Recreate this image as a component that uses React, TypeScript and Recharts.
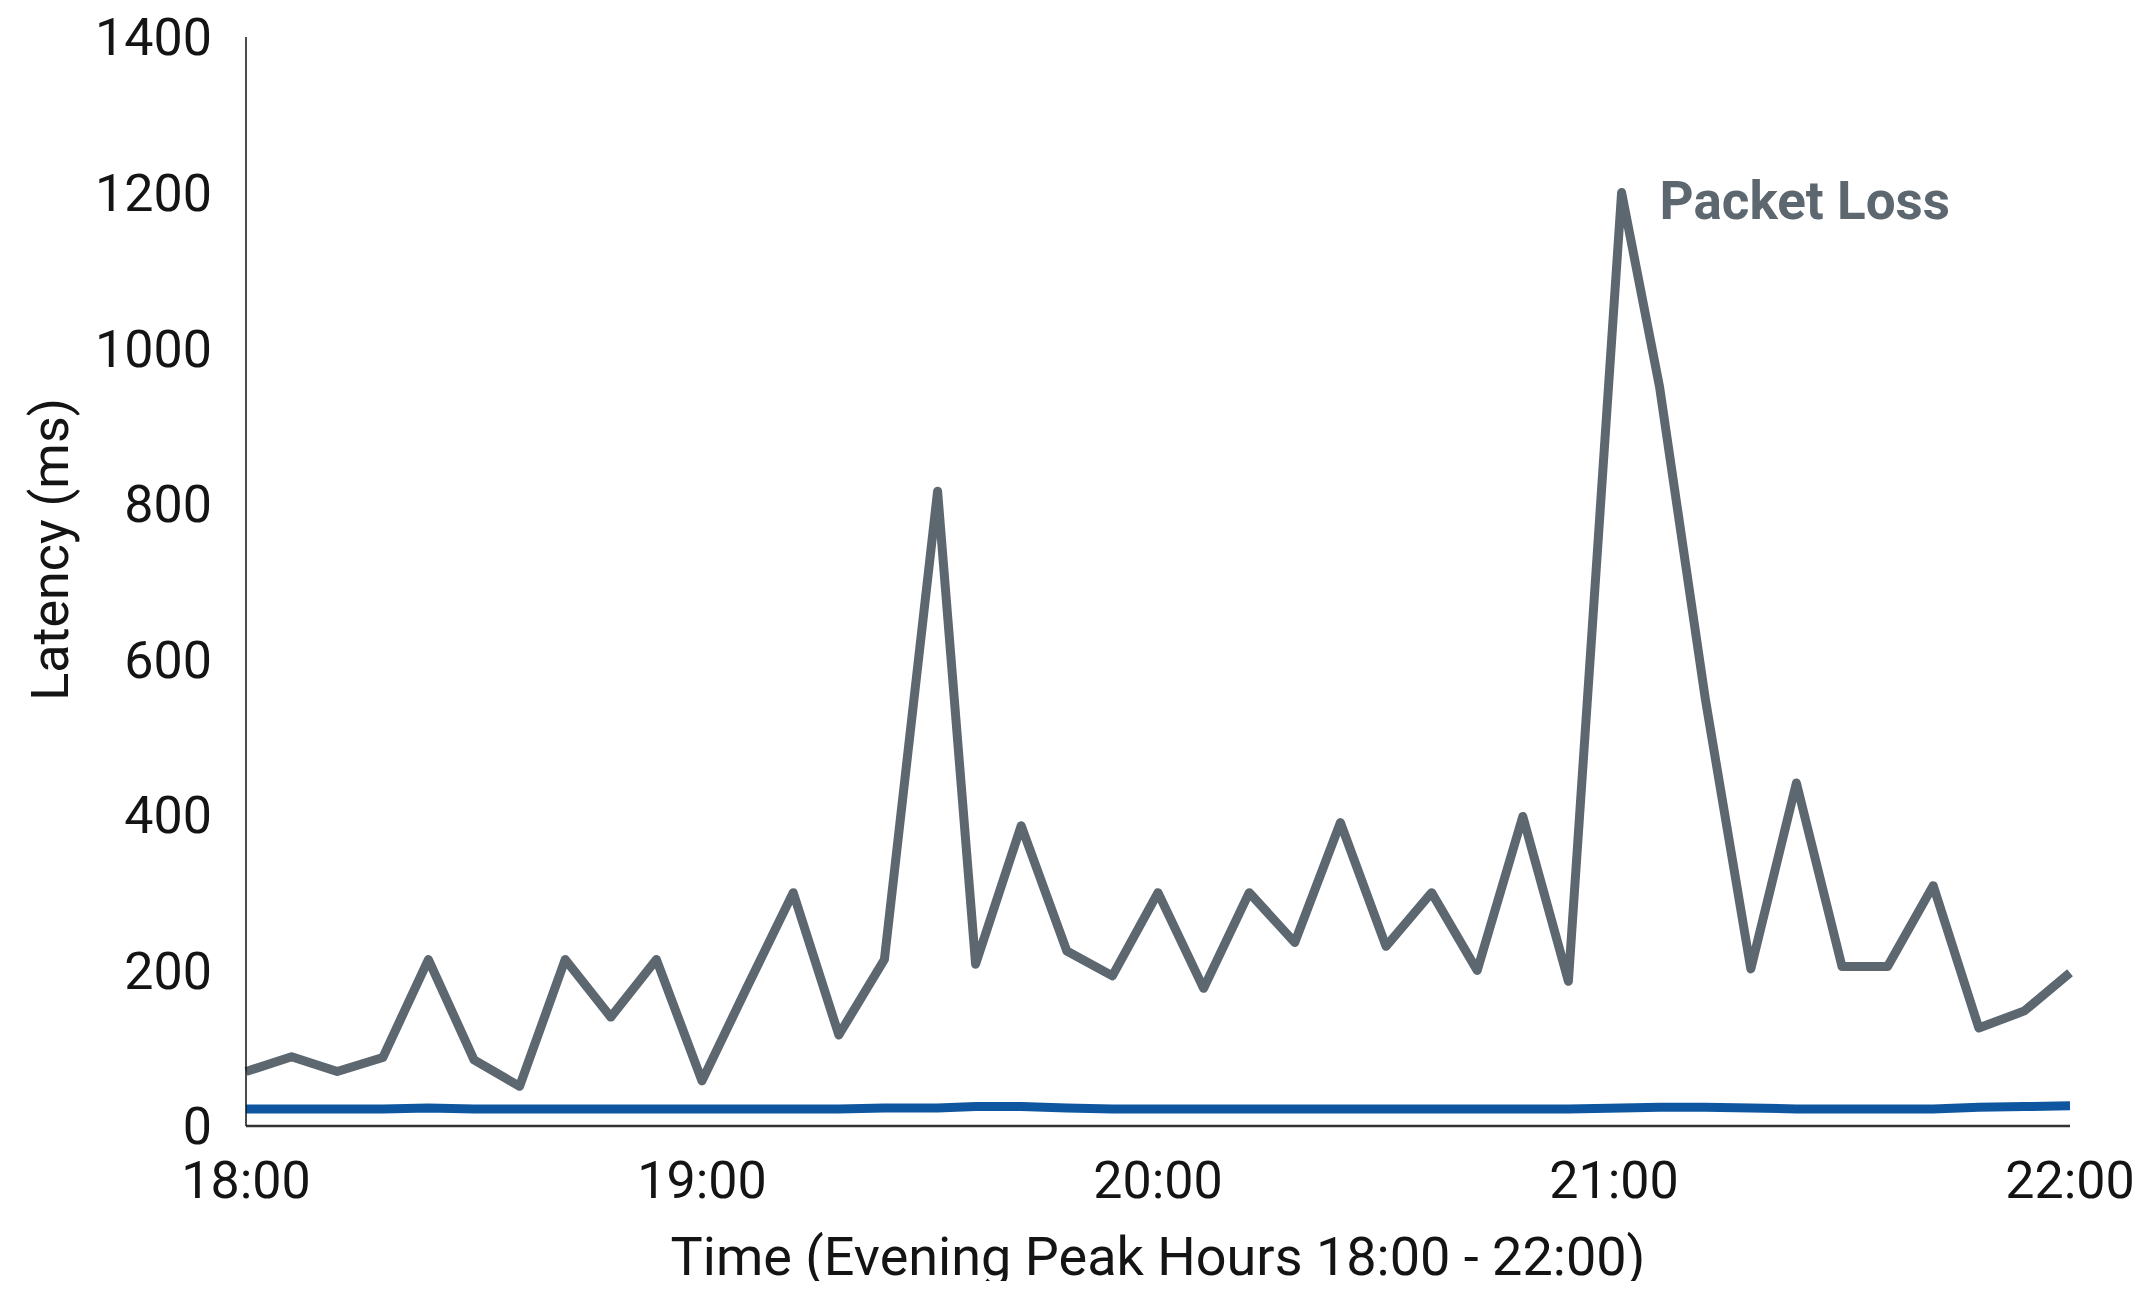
import { Line, LineChart, XAxis, YAxis } from 'recharts';

// minutes after 18:00, one sample every 6 minutes (the two spikes land slightly late)
const minutes = [
  0, 6, 12, 18, 24, 30, 36, 42, 48, 54, 60, 66, 72, 78, 84, 91, 96, 102, 108, 114, 120,
  126, 132, 138, 144, 150, 156, 162, 168, 174, 181, 186, 192, 198, 204, 210, 216, 222, 228, 234, 240,
];

const packetLoss = [
  70, 89, 70, 88, 214, 85, 51, 214, 140, 214, 58, 180, 300, 117, 214, 816, 208, 386, 225, 193, 300,
  177, 300, 236, 390, 231, 300, 200, 398, 186, 1200, 950, 550, 202, 441, 205, 205, 309, 126, 148, 197,
];

const latency = [
  22, 22, 22, 22, 23, 22, 22, 22, 22, 22, 22, 22, 22, 22, 23, 23, 25, 25, 23, 22, 22,
  22, 22, 22, 22, 22, 22, 22, 22, 22, 23, 24, 24, 23, 22, 22, 22, 22, 24, 25, 26,
];

const timeTicks = [0, 60, 120, 180, 240];
const timeLabels = ['18:00', '19:00', '20:00', '21:00', '22:00'];
const latencyTicks = [0, 200, 400, 600, 800, 1000, 1200, 1400];

const data = minutes.map((m, i) => ({ minute: m, packetLoss: packetLoss[i], latency: latency[i] }));

const peakIndex = packetLoss.indexOf(Math.max(...packetLoss));

const FONT = 'Roboto, "Noto Sans", sans-serif';
const GREY = '#5d6770';
const BLUE = '#0e57a0';

const tickStyle = { fontSize: 52, fill: '#141414', fontFamily: FONT };

function YTitle(props: any) {
  const vb = props.viewBox;
  const cx = vb.x + 68;
  const cy = vb.y + vb.height / 2 - 32;
  return (
    <g>
      <text
        x={cx}
        y={cy}
        transform={`rotate(-90 ${cx} ${cy})`}
        textAnchor="middle"
        fontSize={52}
        fontFamily={FONT}
        fill="#141414"
      >
        Latency (ms)
      </text>
      {/* stray glyph cut off at the left edge of the source image */}
      <text x={-5} y={802} fontSize={56} fontFamily={FONT} fontWeight={700} fill="#141414">
        :
      </text>
    </g>
  );
}

function PeakLabel(props: any) {
  if (props.index !== peakIndex) return <g />;
  return (
    <text x={props.x + 38} y={props.y + 26} fontSize={53} fontWeight={700} fontFamily={FONT} fill={GREY}>
      Packet Loss
    </text>
  );
}

export default function App() {
  return (
    <div style={{ margin: -8, width: 2140, height: 1289, background: '#fff' }}>
      <LineChart width={2140} height={1289} data={data} margin={{ top: 37, right: 70, left: 0, bottom: 0 }}>
        <XAxis
          dataKey="minute"
          type="number"
          domain={[0, 240]}
          ticks={timeTicks}
          tickFormatter={(v: number) => timeLabels[timeTicks.indexOf(v)]}
          height={163}
          tickLine={false}
          tickSize={0}
          tickMargin={35}
          tick={tickStyle}
          stroke="#333"
          strokeWidth={2.5}
          label={{
            value: 'Time (Evening Peak Hours 18:00 - 22:00)',
            position: 'insideBottom',
            offset: 14,
            fontSize: 54,
            fontFamily: FONT,
            fill: '#141414',
          }}
        />
        <YAxis
          type="number"
          domain={[0, 1400]}
          ticks={latencyTicks}
          width={246}
          tickLine={false}
          tickSize={0}
          tickMargin={34}
          tick={tickStyle}
          stroke="#111"
          strokeWidth={1.5}
          label={<YTitle />}
        />
        <Line
          type="linear"
          dataKey="latency"
          name="Latency"
          stroke={BLUE}
          strokeWidth={9}
          dot={false}
          strokeLinejoin="round"
          isAnimationActive={false}
        />
        <Line
          type="linear"
          dataKey="packetLoss"
          name="Packet Loss"
          stroke={GREY}
          strokeWidth={9}
          dot={false}
          strokeLinejoin="round"
          label={<PeakLabel />}
          isAnimationActive={false}
        />
      </LineChart>
    </div>
  );
}
